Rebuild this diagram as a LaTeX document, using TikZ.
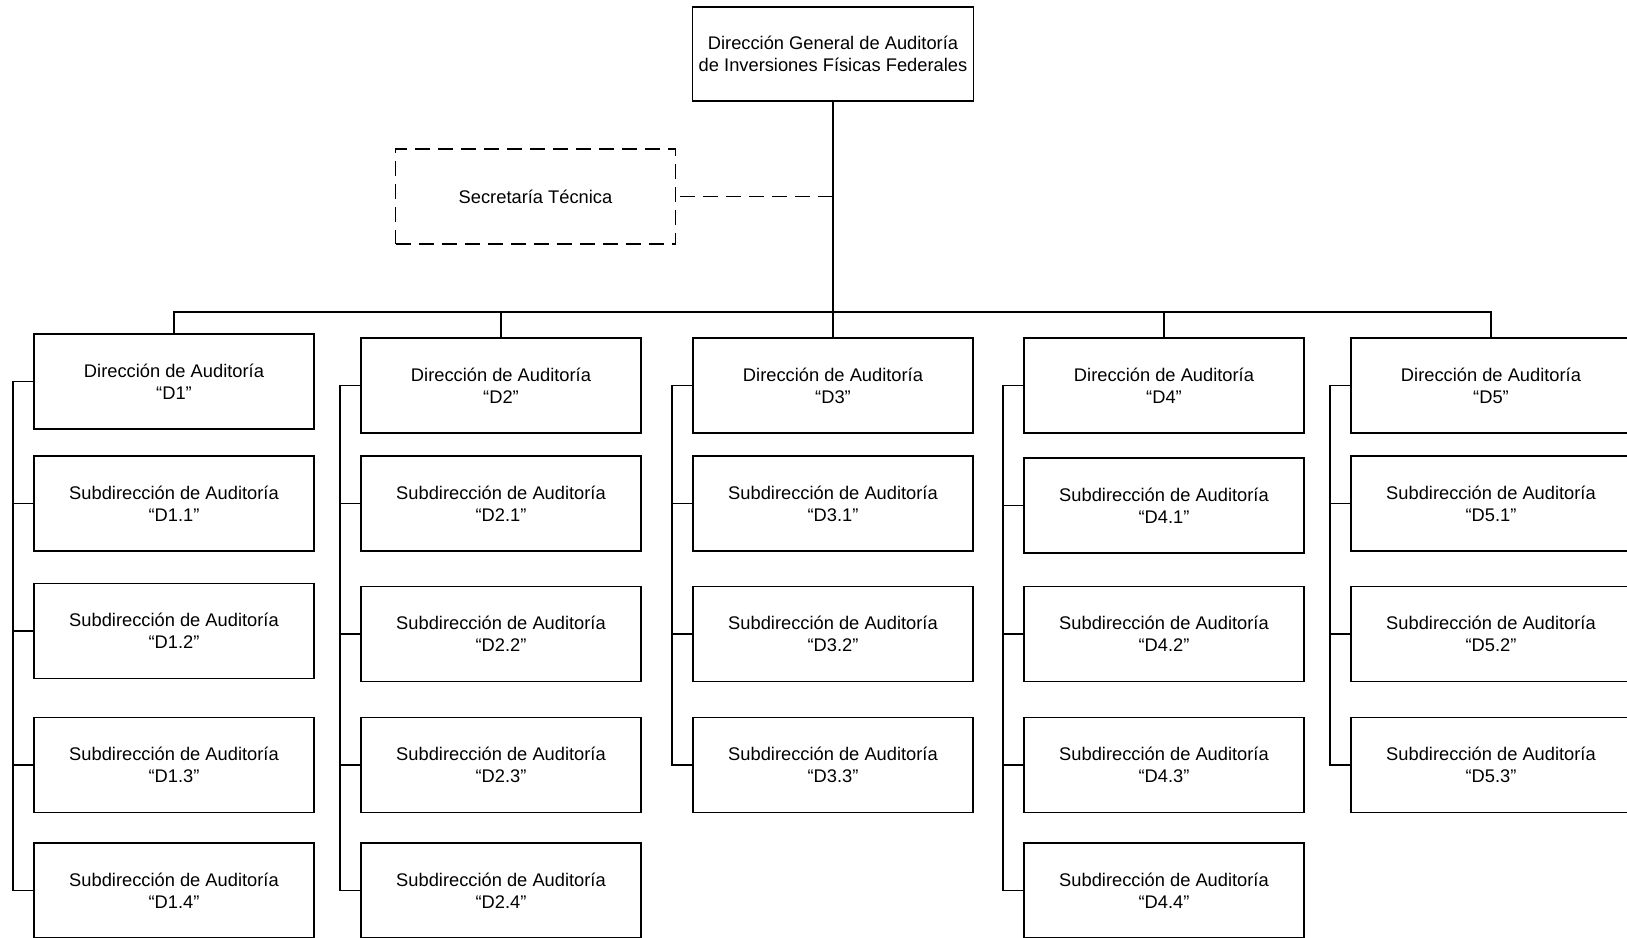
\documentclass[tikz,border=0pt]{standalone}
\usepackage{fontspec}
\setmainfont{Liberation Sans}
\begin{document}
\begin{tikzpicture}[x=1pt,y=-1pt,
  box/.style={draw, line width=1.8pt, rectangle, minimum width=280pt, minimum height=95pt,
    inner sep=0pt, align=center, font=\fontsize{18.3}{22}\selectfont},
  link/.style={line width=1.8pt},
  dashlink/.style={line width=1.8pt, dash pattern=on 15pt off 8pt}]
\clip (0,0) rectangle (1627,937);
\fill[white] (0,0) rectangle (1627,937);

% head office and its technical secretariat
\node[box, minimum width=281pt, minimum height=94pt] (dg) at (833,54) {Dirección General de Auditoría\\de Inversiones Físicas Federales};
\node[box, dashlink] (st) at (535.5,196.5) {Secretaría Técnica};

% directorates
\node[box] (d1) at (174,381.5) {Dirección de Auditoría\\“D1”};
\node[box] (d2) at (501,385.5) {Dirección de Auditoría\\“D2”};
\node[box] (d3) at (833,385.5) {Dirección de Auditoría\\“D3”};
\node[box] (d4) at (1164,385.5) {Dirección de Auditoría\\“D4”};
\node[box] (d5) at (1491,385.5) {Dirección de Auditoría\\“D5”};

% column D1
\node[box] (s11) at (174,503.5) {Subdirección de Auditoría\\“D1.1”};
\node[box] (s12) at (174,631) {Subdirección de Auditoría\\“D1.2”};
\node[box] (s13) at (174,765) {Subdirección de Auditoría\\“D1.3”};
\node[box] (s14) at (174,890.5) {Subdirección de Auditoría\\“D1.4”};
% column D2
\node[box] (s21) at (501,503.5) {Subdirección de Auditoría\\“D2.1”};
\node[box] (s22) at (501,634) {Subdirección de Auditoría\\“D2.2”};
\node[box] (s23) at (501,765) {Subdirección de Auditoría\\“D2.3”};
\node[box] (s24) at (501,890.5) {Subdirección de Auditoría\\“D2.4”};
% column D3
\node[box] (s31) at (833,503.5) {Subdirección de Auditoría\\“D3.1”};
\node[box] (s32) at (833,634) {Subdirección de Auditoría\\“D3.2”};
\node[box] (s33) at (833,765) {Subdirección de Auditoría\\“D3.3”};
% column D4
\node[box] (s41) at (1164,505.5) {Subdirección de Auditoría\\“D4.1”};
\node[box] (s42) at (1164,634) {Subdirección de Auditoría\\“D4.2”};
\node[box] (s43) at (1164,765) {Subdirección de Auditoría\\“D4.3”};
\node[box] (s44) at (1164,890.5) {Subdirección de Auditoría\\“D4.4”};
% column D5
\node[box] (s51) at (1491,503.5) {Subdirección de Auditoría\\“D5.1”};
\node[box] (s52) at (1491,634) {Subdirección de Auditoría\\“D5.2”};
\node[box] (s53) at (1491,765) {Subdirección de Auditoría\\“D5.3”};

% top-level connectors
\coordinate (bus) at (833,312);
\draw[link] (dg.south) -- (d3.north);
\draw[link] (d1.north) |- (bus) -| (d5.north);
\draw[link] (d2.north) -- (d2.north |- bus);
\draw[link] (d4.north) -- (d4.north |- bus);
\draw[dashlink] (st.east -| dg.south) -- (st.east);

% spines on the left of each column
\coordinate (c1) at (13,0);
\coordinate (c2) at (340,0);
\coordinate (c3) at (672,0);
\coordinate (c4) at (1003,0);
\coordinate (c5) at (1330,0);

\draw[link] (d1.west) -- (d1.west -| c1) |- (s14.west);
\foreach \n in {s11,s12,s13} \draw[link] (\n.west) -- (\n.west -| c1);
\draw[link] (d2.west) -- (d2.west -| c2) |- (s24.west);
\foreach \n in {s21,s22,s23} \draw[link] (\n.west) -- (\n.west -| c2);
\draw[link] (d3.west) -- (d3.west -| c3) |- (s33.west);
\foreach \n in {s31,s32} \draw[link] (\n.west) -- (\n.west -| c3);
\draw[link] (d4.west) -- (d4.west -| c4) |- (s44.west);
\foreach \n in {s41,s42,s43} \draw[link] (\n.west) -- (\n.west -| c4);
\draw[link] (d5.west) -- (d5.west -| c5) |- (s53.west);
\foreach \n in {s51,s52} \draw[link] (\n.west) -- (\n.west -| c5);
\end{tikzpicture}
\end{document}
